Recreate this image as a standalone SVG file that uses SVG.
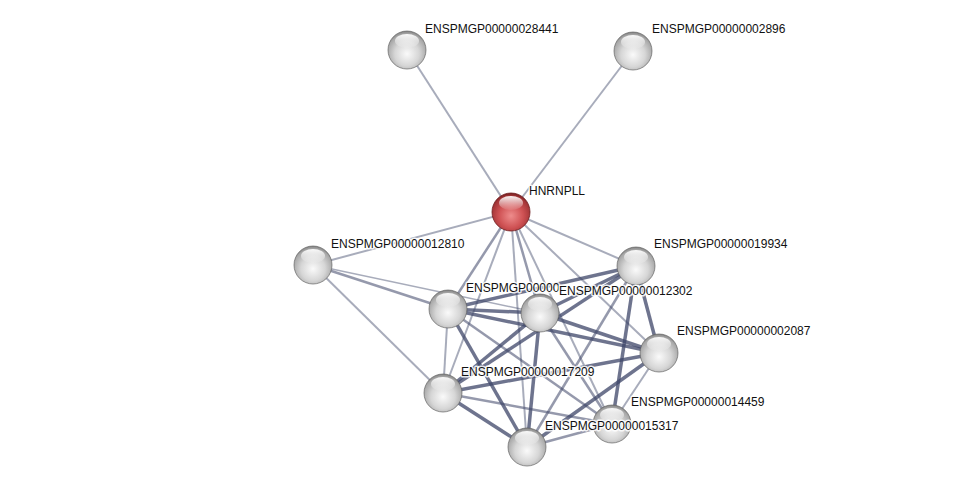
<svg xmlns="http://www.w3.org/2000/svg" width="976" height="493" viewBox="0 0 976 493">
<style>
.e{stroke:#3e4668;fill:none;stroke-linecap:butt}
.t1{stroke-width:2;stroke-opacity:0.45}
.t2{stroke-width:2.5;stroke-opacity:0.55}
.t3{stroke-width:3.5;stroke-opacity:0.75}
.lbl{font-family:"Liberation Sans",Arial,sans-serif;font-size:12px;fill:#111;stroke:#fff;stroke-width:3;stroke-opacity:0.85;paint-order:stroke;stroke-linejoin:round}
.node{stroke:#5a5a5a;stroke-width:0.8;stroke-opacity:0.8}
</style>
<defs>
<radialGradient id="gg" cx="0.5" cy="0.6" r="0.58">
<stop offset="0" stop-color="#fafafa"/>
<stop offset="0.55" stop-color="#d6d6d6"/>
<stop offset="0.9" stop-color="#a8a8a8"/>
<stop offset="1" stop-color="#8c8c8c"/>
</radialGradient>
<radialGradient id="gr" cx="0.5" cy="0.6" r="0.58">
<stop offset="0" stop-color="#ee8c8c"/>
<stop offset="0.55" stop-color="#cf5254"/>
<stop offset="0.9" stop-color="#a33537"/>
<stop offset="1" stop-color="#7e2224"/>
</radialGradient>
<linearGradient id="hl" x1="0" y1="0" x2="0" y2="1">
<stop offset="0" stop-color="#fff" stop-opacity="0.95"/>
<stop offset="1" stop-color="#fff" stop-opacity="0.05"/>
</linearGradient>
<g id="sph"><circle r="19" fill="url(#gg)" class="node"/><ellipse cx="0" cy="-9" rx="12" ry="7" fill="url(#hl)"/></g>
<g id="sphr"><circle r="19" fill="url(#gr)" stroke="#6e1c1e" stroke-width="0.8"/><ellipse cx="0" cy="-9" rx="12" ry="7" fill="url(#hl)"/></g>
</defs>
<rect width="976" height="493" fill="#fff"/>
<g id="edges">
<line class="e t1" x1="511" y1="212" x2="407" y2="50"/>
<line class="e t1" x1="511" y1="212" x2="633" y2="51"/>
<line class="e t1" x1="511" y1="212" x2="313" y2="265"/>
<line class="e t1" x1="511" y1="212" x2="636" y2="266"/>
<line class="e t2" x1="511" y1="212" x2="448" y2="309"/>
<line class="e t2" x1="511" y1="212" x2="540" y2="313"/>
<line class="e t1" x1="511" y1="212" x2="443" y2="393"/>
<line class="e t1" x1="511" y1="212" x2="527" y2="447"/>
<line class="e t1" x1="511" y1="212" x2="612" y2="424"/>
<line class="e t1" x1="511" y1="212" x2="659" y2="353"/>
<line class="e t2" x1="313" y1="265" x2="448" y2="309"/>
<line class="e t1" x1="313" y1="265" x2="540" y2="313" style="stroke-width:1.5"/>
<line class="e t1" x1="313" y1="265" x2="443" y2="393"/>
<line class="e t3" x1="448" y1="309" x2="540" y2="313"/>
<line class="e t3" x1="448" y1="309" x2="636" y2="266"/>
<line class="e t3" x1="448" y1="309" x2="659" y2="353"/>
<line class="e t1" x1="448" y1="309" x2="443" y2="393"/>
<line class="e t3" x1="448" y1="309" x2="527" y2="447"/>
<line class="e t2" x1="448" y1="309" x2="612" y2="424"/>
<line class="e t3" x1="540" y1="313" x2="636" y2="266"/>
<line class="e t3" x1="540" y1="313" x2="659" y2="353"/>
<line class="e t3" x1="540" y1="313" x2="443" y2="393"/>
<line class="e t3" x1="540" y1="313" x2="527" y2="447"/>
<line class="e t2" x1="540" y1="313" x2="612" y2="424"/>
<line class="e t3" x1="636" y1="266" x2="443" y2="393"/>
<line class="e t3" x1="636" y1="266" x2="659" y2="353"/>
<line class="e t3" x1="636" y1="266" x2="612" y2="424"/>
<line class="e t2" x1="636" y1="266" x2="527" y2="447"/>
<line class="e t3" x1="659" y1="353" x2="443" y2="393"/>
<line class="e t3" x1="659" y1="353" x2="527" y2="447"/>
<line class="e t1" x1="659" y1="353" x2="612" y2="424"/>
<line class="e t3" x1="443" y1="393" x2="527" y2="447"/>
<line class="e t2" x1="443" y1="393" x2="612" y2="424"/>
<line class="e t2" x1="527" y1="447" x2="612" y2="424"/>
</g>
<g id="n28441"><use href="#sph" x="407" y="50"/><text class="lbl" x="425" y="33">ENSPMGP00000028441</text></g>
<g id="n2896"><use href="#sph" x="633" y="51"/><text class="lbl" x="652" y="33">ENSPMGP00000002896</text></g>
<g id="hnrnpll"><use href="#sphr" x="511" y="212"/><text class="lbl" x="529" y="195">HNRNPLL</text></g>
<g id="n12810"><use href="#sph" x="313" y="265"/><text class="lbl" x="331" y="248">ENSPMGP00000012810</text></g>
<g id="n19934"><use href="#sph" x="636" y="266"/><text class="lbl" x="654" y="248">ENSPMGP00000019934</text></g>
<g id="nx"><use href="#sph" x="448" y="309"/><text class="lbl" x="466" y="292">ENSPMGP00000</text></g>
<g id="n12302"><use href="#sph" x="540" y="313"/><text class="lbl" x="559" y="295">ENSPMGP00000012302</text></g>
<g id="n2087"><use href="#sph" x="659" y="353"/><text class="lbl" x="677" y="335">ENSPMGP00000002087</text></g>
<g id="n17209"><use href="#sph" x="443" y="393"/><text class="lbl" x="461" y="376">ENSPMGP00000017209</text></g>
<g id="n14459"><use href="#sph" x="612" y="424"/><text class="lbl" x="631" y="406">ENSPMGP00000014459</text></g>
<g id="n15317"><use href="#sph" x="527" y="447"/><text class="lbl" x="545" y="430">ENSPMGP00000015317</text></g>
</svg>
